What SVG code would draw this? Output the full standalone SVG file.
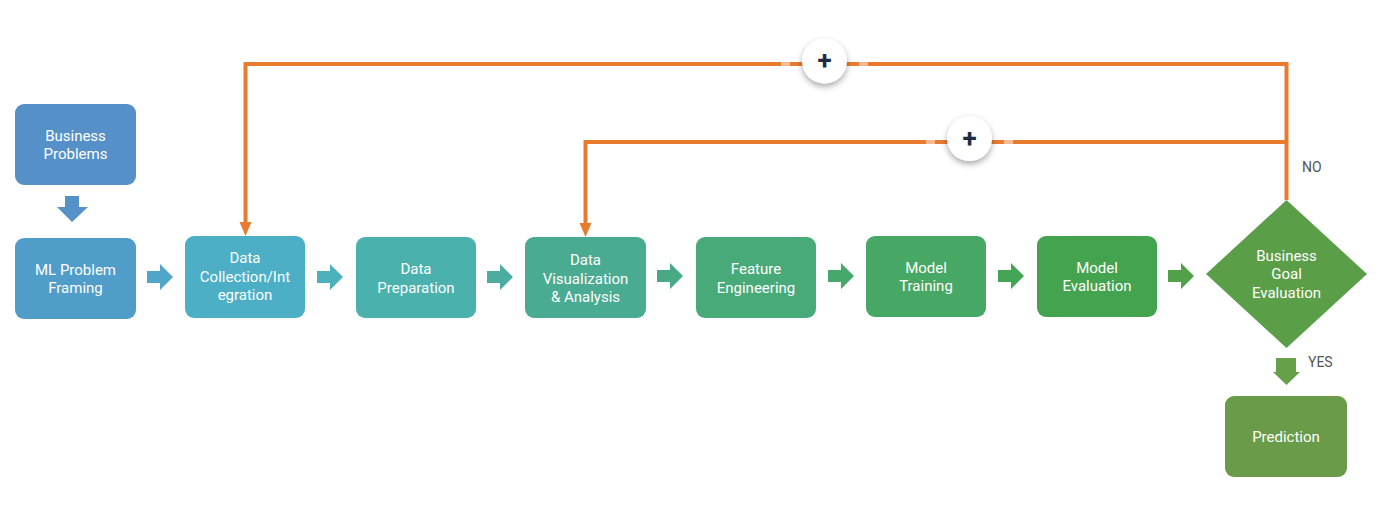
<svg xmlns="http://www.w3.org/2000/svg" width="1392" height="522" viewBox="0 0 1392 522">
  <defs>
    <filter id="shadow" x="-50%" y="-50%" width="200%" height="200%">
      <feDropShadow dx="0" dy="3" stdDeviation="3" flood-color="#000" flood-opacity="0.35"/>
    </filter>
    <style>
      .lbl { font-family: Roboto, "Liberation Sans", sans-serif; font-size: 15px; fill: #ffffff; text-anchor: middle; dominant-baseline: central; }
      .side { font-family: Roboto, "Liberation Sans", sans-serif; font-size: 14px; fill: #555555; }
      .plus { font-family: Roboto, "Liberation Sans", sans-serif; font-size: 26px; font-weight: bold; fill: #1f2b45; text-anchor: middle; dominant-baseline: central; }
      .loop { fill: none; stroke: #e97b2f; stroke-width: 4; }
      .gap { fill: none; stroke: #f4bb94; stroke-width: 4; }
      .ahead { fill: #e97b2f; }
    </style>
  </defs>
  <rect width="1392" height="522" fill="#ffffff"/>

  <g id="connectors">
    <!-- orange feedback loops -->
    <path class="loop" d="M1286.5,200 V64 H245.5 V224"/>
    <path class="loop" d="M1286.5,142 H585.5 V224"/>
    <path class="ahead" d="M239.5,222 L251.5,222 L245.5,236 Z"/>
    <path class="ahead" d="M579.5,223 L591.5,223 L585.5,237 Z"/>
    <line class="gap" x1="781" y1="64" x2="790" y2="64"/>
    <line class="gap" x1="859" y1="64" x2="868" y2="64"/>
    <line class="gap" x1="926" y1="142" x2="935" y2="142"/>
    <line class="gap" x1="1004" y1="142" x2="1013" y2="142"/>
    <!-- block arrows -->
    <path fill="#5592c8" d="M65,196 H79 V207 H88 L72,222 L57,207 H65 Z"/>
    <path fill="#4fa6c9" d="M147,271 H160 V264 L173,277 L160,290 V283 H147 Z"/>
    <path fill="#4cb1bb" d="M317,271 H330 V264 L343,277 L330,290 V283 H317 Z"/>
    <path fill="#4aada0" d="M487,271 H500 V264 L513,277 L500,290 V283 H487 Z"/>
    <path fill="#48aa84" d="M657,270 H670 V263 L683,276 L670,289 V282 H657 Z"/>
    <path fill="#47a86c" d="M828,270 H841 V263 L854,276 L841,289 V282 H828 Z"/>
    <path fill="#45a556" d="M998,270 H1011 V263 L1024,276 L1011,289 V282 H998 Z"/>
    <path fill="#52a04a" d="M1168,270 H1181 V263 L1194,276 L1181,289 V282 H1168 Z"/>
    <path fill="#66a049" d="M1276,358 H1296 V372 H1300 L1286.5,385 L1273,372 H1276 Z"/>
  </g>

  <g id="plus-outer" filter="url(#shadow)">
    <circle cx="824.5" cy="61" r="22.5" fill="#ffffff"/>
  </g>
  <text class="plus" x="824.5" y="60">+</text>
  <g id="plus-inner" filter="url(#shadow)">
    <circle cx="969.5" cy="138.5" r="22.5" fill="#ffffff"/>
  </g>
  <text class="plus" x="969.5" y="137.5">+</text>

  <g id="business-problems">
    <rect x="15" y="104" width="121" height="81" rx="9" fill="#5591c8"/>
    <text class="lbl" x="75.5" y="136">Business</text>
    <text class="lbl" x="75.5" y="154">Problems</text>
  </g>
  <g id="ml-problem-framing">
    <rect x="15" y="238" width="121" height="81" rx="9" fill="#509dca"/>
    <text class="lbl" x="75.5" y="270">ML Problem</text>
    <text class="lbl" x="75.5" y="288">Framing</text>
  </g>
  <g id="data-collection">
    <rect x="185" y="236" width="120" height="82" rx="9" fill="#4cafc5"/>
    <text class="lbl" x="245" y="258">Data</text>
    <text class="lbl" x="245" y="276.5">Collection/Int</text>
    <text class="lbl" x="245" y="295">egration</text>
  </g>
  <g id="data-preparation">
    <rect x="356" y="237" width="120" height="81" rx="9" fill="#4bb1ad"/>
    <text class="lbl" x="416" y="269">Data</text>
    <text class="lbl" x="416" y="287.5">Preparation</text>
  </g>
  <g id="data-visualization">
    <rect x="525" y="237" width="121" height="81" rx="9" fill="#49ab92"/>
    <text class="lbl" x="585.5" y="260">Data</text>
    <text class="lbl" x="585.5" y="278.5">Visualization</text>
    <text class="lbl" x="585.5" y="297">&amp; Analysis</text>
  </g>
  <g id="feature-engineering">
    <rect x="696" y="237" width="120" height="81" rx="9" fill="#48aa78"/>
    <text class="lbl" x="756" y="269">Feature</text>
    <text class="lbl" x="756" y="288">Engineering</text>
  </g>
  <g id="model-training">
    <rect x="866" y="236" width="120" height="81" rx="9" fill="#47a764"/>
    <text class="lbl" x="926" y="268">Model</text>
    <text class="lbl" x="926" y="286">Training</text>
  </g>
  <g id="model-evaluation">
    <rect x="1037" y="236" width="120" height="81" rx="9" fill="#44a34f"/>
    <text class="lbl" x="1097" y="268">Model</text>
    <text class="lbl" x="1097" y="286">Evaluation</text>
  </g>
  <g id="business-goal-evaluation">
    <path d="M1286.5,200 L1367,274 L1286.5,348 L1206,274 Z" fill="#5a9e48"/>
    <text class="lbl" x="1286.5" y="256">Business</text>
    <text class="lbl" x="1286.5" y="274">Goal</text>
    <text class="lbl" x="1286.5" y="293">Evaluation</text>
  </g>
  <g id="prediction">
    <rect x="1225" y="396" width="122" height="81" rx="9" fill="#6a9b49"/>
    <text class="lbl" x="1286" y="436.5">Prediction</text>
  </g>
  <text class="side" x="1302" y="172">NO</text>
  <text class="side" x="1308" y="367">YES</text>
</svg>
